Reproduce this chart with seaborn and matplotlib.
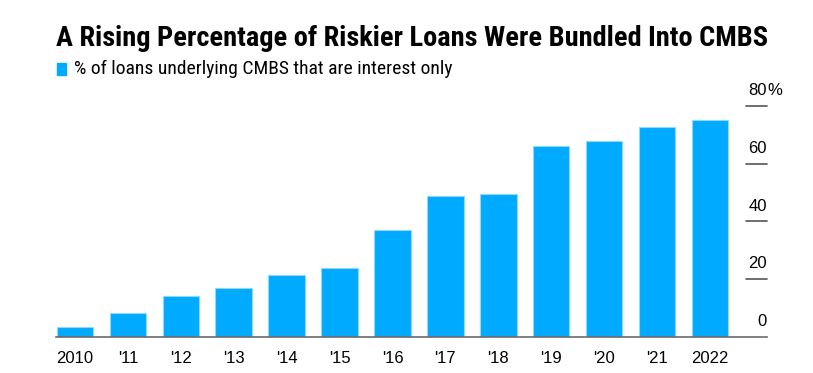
import matplotlib
matplotlib.use("Agg")
import matplotlib.pyplot as plt
import seaborn as sns
import pandas as pd

years = ["2010", "'11", "'12", "'13", "'14", "'15", "'16", "'17", "'18", "'19", "'20", "'21", "2022"]
pct_interest_only = [3.6, 8.3, 14.2, 17.0, 21.5, 23.9, 37.1, 48.6, 49.3, 66.2, 67.8, 72.7, 75.2]
y_ticks = [0, 20, 40, 60, 80]
y_tick_labels = ["0", "20", "40", "60", "80"]

BLUE = "#00aaff"

df = pd.DataFrame({"Ano": years, "Pct": pct_interest_only})

sns.set_style("white")
plt.rcParams["font.family"] = ["Liberation Sans", "DejaVu Sans"]
plt.rcParams["text.color"] = "black"
plt.rcParams["xtick.color"] = "#444444"
plt.rcParams["xtick.labelcolor"] = "black"

fig = plt.figure(figsize=(8.13, 3.73), dpi=100)
ax = fig.add_axes([56 / 813, 36 / 373, 711 / 813, (337 - 105.7) / 373])

sns.barplot(data=df, x="Ano", y="Pct", order=years, color=BLUE, width=0.69,
            edgecolor="#8fd8ff", linewidth=0.8, saturation=1, ax=ax)

ax.set_xlim(-0.36, 13.08)
ax.set_ylim(0, 80)
for s in ["top", "right", "left"]:
    ax.spines[s].set_visible(False)
ax.spines["bottom"].set_color("#6b6b6b")
ax.spines["bottom"].set_linewidth(1.2)
ax.set_xlabel("")
ax.set_ylabel("")
ax.set_yticks([])
ax.tick_params(axis="x", length=6, width=1.2, labelsize=12, pad=4)

# marcas curtas à direita com os rótulos por cima
for v, lab in zip(y_ticks, y_tick_labels):
    if v > 0:
        ax.axhline(v, xmin=0.970, xmax=1.0, color="#555555", lw=1.2, clip_on=False)
    ax.annotate(lab, xy=(1.0, v), xycoords=("axes fraction", "data"),
                xytext=(0, 11), textcoords="offset points",
                ha="right", va="center", fontsize=12, annotation_clip=False)
ax.annotate("%", xy=(1.0, 80), xycoords=("axes fraction", "data"),
            xytext=(0, 11), textcoords="offset points",
            ha="left", va="center", fontsize=12, annotation_clip=False)

fig.text(56 / 813, 1 - 38 / 373, "A Rising Percentage of Riskier Loans Were Bundled Into CMBS",
         fontsize=20.4, fontweight="bold", family=["Roboto Condensed", "Roboto", "DejaVu Sans"],
         va="center", ha="left")
fig.patches.append(plt.Rectangle((57 / 813, 1 - 75 / 373), 9 / 813, 12 / 373,
                                 transform=fig.transFigure, color=BLUE))
fig.text(74 / 813, 1 - 69 / 373, "% of loans underlying CMBS that are interest only",
         fontsize=14, family=["Roboto Condensed", "Roboto", "DejaVu Sans"], va="center", ha="left")

plt.savefig("out.png", dpi=100)
plt.close()
